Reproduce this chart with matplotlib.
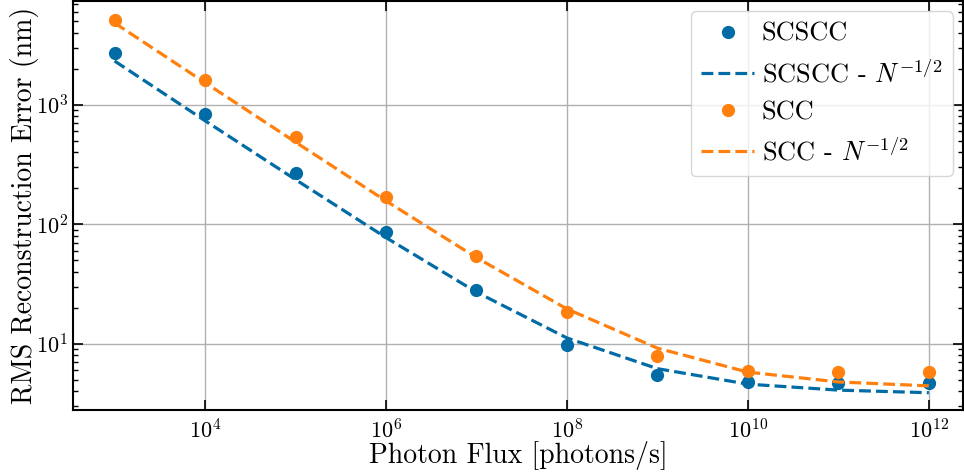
import matplotlib
matplotlib.use('Agg')
import matplotlib.pyplot as plt
import matplotlib.ticker as mticker
import numpy as np

# photon flux (photons/s)
flux = [1e3, 1e4, 1e5, 1e6, 1e7, 1e8, 1e9, 1e10, 1e11, 1e12]

# measured RMS errors (nm)
scscc_err = [2730, 847, 270, 86, 28, 9.8, 5.5, 4.8, 4.7, 4.7]
scc_err = [5100, 1625, 534, 169, 54, 18.3, 7.9, 5.9, 5.8, 5.8]

# N^-1/2 fits
scscc_fit = [2330, 737, 237, 77.5, 27.1, 11.2, 6.2, 4.6, 4.1, 3.9]
scc_fit = [4850, 1535, 488, 157, 52.7, 19.6, 9.2, 5.8, 4.8, 4.45]

blue = '#006BA4'
orange = '#FF800E'

plt.rcParams['font.family'] = 'cmr10'
plt.rcParams['mathtext.fontset'] = 'cm'
plt.rcParams['axes.formatter.use_mathtext'] = True

fig = plt.figure(figsize=(9.64, 4.72), dpi=100)
ax = fig.add_axes([0.0757, 0.131, 0.9235, 0.867])

ax.plot(flux, scscc_err, 'o', color=blue, ms=8.5, label='SCSCC')
ax.plot(flux, scscc_fit, '--', color=blue, lw=2.3, label=r'SCSCC - $N^{-1/2}$')
ax.plot(flux, scc_err, 'o', color=orange, ms=8.5, label='SCC')
ax.plot(flux, scc_fit, '--', color=orange, lw=2.3, label=r'SCC - $N^{-1/2}$')

ax.set_xscale('log')
ax.set_yscale('log')
ax.set_xlim(10**2.54, 10**12.38)
ax.set_ylim(10**0.445, 10**3.87)
ax.xaxis.set_minor_formatter(mticker.NullFormatter())
ax.yaxis.set_minor_formatter(mticker.NullFormatter())

ax.grid(True, which='major', color='#b0b0b0', lw=1)
ax.tick_params(which='both', direction='in', top=True, right=True, labelsize=16)
ax.tick_params(which='major', length=7, width=1.2)
ax.tick_params(which='minor', length=3.5, width=1)
ax.tick_params(axis='x', pad=6)
for s in ax.spines.values():
    s.set_linewidth(1.5)

ax.set_xlabel('Photon Flux [photons/s]', fontsize=20, labelpad=-1)
ax.set_ylabel('RMS Reconstruction Error (nm)', fontsize=20, labelpad=-2)

leg = ax.legend(loc='upper right', fontsize=19, framealpha=0.8,
                handlelength=2.0, handletextpad=0.3, borderaxespad=0.4)

plt.savefig('out.png', dpi=100)
